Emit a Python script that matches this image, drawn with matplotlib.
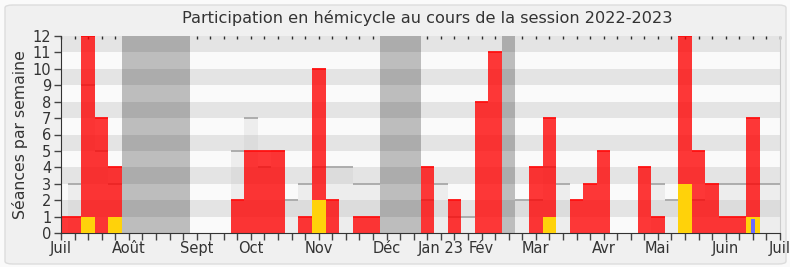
import numpy as np
import matplotlib
matplotlib.use('Agg')
import matplotlib.pyplot as plt
from matplotlib.patches import FancyBboxPatch

# semaines de la session (0 = debut juillet 2022)
semaines = np.arange(54)
# presences en hemicycle (rouge)
presences = [1, 1, 12, 7, 4, 0, 0, 0, 0, 0, 0, 0, 0, 2, 5, 5, 5, 0, 1, 10,
             2, 0, 1, 1, 0, 0, 0, 4, 0, 2, 0, 8, 11, 0, 0, 4, 7, 0, 2, 3,
             5, 0, 0, 4, 1, 0, 12, 5, 3, 1, 1, 7, 0, 0]
# interventions (jaune)
interventions = [0, 0, 1, 0, 1, 0, 0, 0, 0, 0, 0, 0, 0, 0, 0, 0, 0, 0, 0, 2,
                 0, 0, 0, 0, 0, 0, 0, 0, 0, 0, 0, 0, 0, 0, 0, 0, 1, 0, 0, 0,
                 0, 0, 0, 0, 0, 0, 3, 0, 0, 0, 0, 1, 0, 0]
# questions orales (bleu)
questions = [0] * 51 + [0.85, 0, 0]
# mediane des deputes (gris clair)
mediane = [0, 3, 9, 5, 3, 0, 0, 0, 0, 0, 0, 0, 0, 5, 7, 4, 5, 2, 3, 4,
           4, 4, 3, 3, 0, 0, 0, 2, 3, 1, 1, 0, 0, 0, 2, 2, 4, 3, 0, 0,
           0, 0, 0, 0, 3, 2, 0, 2, 3, 3, 3, 3, 3, 3]
# vacances parlementaires (debut, fin) en semaines
vacances = [(5, 9), (24, 26), (33, 33)]
# etiquettes des mois
mois_pos = [0, 5, 10, 14, 19, 24, 28, 31, 35, 40, 44, 49, 53]
mois_noms = ['Juil', 'Août', 'Sept', 'Oct', 'Nov', 'Déc', 'Jan 23', 'Fév',
             'Mar', 'Avr', 'Mai', 'Juin', 'Juil']

plt.rcParams['font.family'] = ['DejaVu Sans']
fig = plt.figure(figsize=(7.9, 2.67), dpi=100)
fig.patch.set_facecolor('#fafafa')
fond = FancyBboxPatch((5 / 790, 3 / 267), 781 / 790, 259 / 267,
                      boxstyle='round,pad=0,rounding_size=0.01',
                      transform=fig.transFigure, facecolor='#f0f0f0',
                      edgecolor='#dcdcdc', linewidth=1, zorder=-10)
fig.patches.append(fond)

ax = fig.add_axes([61 / 790, 34 / 267, 719 / 790, 197 / 267])
ax.set_facecolor('#fafafa')

# vacances
for d, f in vacances:
    ax.axvspan(d - 0.5, f + 0.5, color='#bdbdbd', lw=0, zorder=0.5)
# bandes horizontales
for k in range(0, 12, 2):
    ax.axhspan(k + 1, k + 2, color='black', alpha=0.085, lw=0, zorder=0.6)

# mediane
ax.bar(semaines, mediane, width=1, color='#c8c8c8', alpha=0.25, lw=0, zorder=1)
m = np.array(mediane)
ax.hlines(m[m > 0], semaines[m > 0] - 0.5, semaines[m > 0] + 0.5,
          color='#a8a8a8', lw=1.3, zorder=1.1)

# presences
p = np.array(presences)
ax.bar(semaines, presences, width=1, color='#ff0000', alpha=0.78, lw=0, zorder=2)
ax.hlines(p[p > 0], semaines[p > 0] - 0.5, semaines[p > 0] + 0.5,
          color='#ff1010', lw=1.3, zorder=2.1)
# interventions
ax.bar(semaines, interventions, width=1, color='#ffd20a', lw=0, zorder=3)
# questions
ax.bar(semaines, questions, width=0.3, color='#6b6bff', lw=0, zorder=4)

ax.set_xlim(0, 53)
ax.set_ylim(0, 12)
ax.set_yticks(range(13))
ax.set_xticks(semaines)
labels = [''] * len(semaines)
for pos, nom in zip(mois_pos, mois_noms):
    labels[pos] = nom
ax.set_xticklabels(labels)
ax.tick_params(axis='both', colors='#444444', labelsize=10.5, length=5,
               width=1, labelcolor='#333333')
ax.tick_params(axis='x', pad=1)
ax.tick_params(axis='y', pad=2)
ax.spines['top'].set_visible(False)
ax.spines['right'].set_color('#cccccc')
ax.spines['left'].set_color('#333333')
ax.spines['bottom'].set_color('#333333')

haut = ax.secondary_xaxis('top')
haut.set_xticks(semaines)
haut.set_xticklabels([])
haut.tick_params(direction='in', length=2, width=1, colors='#333333')
haut.spines['top'].set_visible(False)

ax.set_ylabel('Séances par semaine', fontsize=11.3, color='#333333', labelpad=3)
fig.text(427 / 790, 1 - 18 / 267, 'Participation en hémicycle au cours de la session 2022-2023',
         ha='center', va='center', fontsize=11.6, color='#333333')

fig.savefig('out.png', dpi=100, facecolor=fig.get_facecolor())
